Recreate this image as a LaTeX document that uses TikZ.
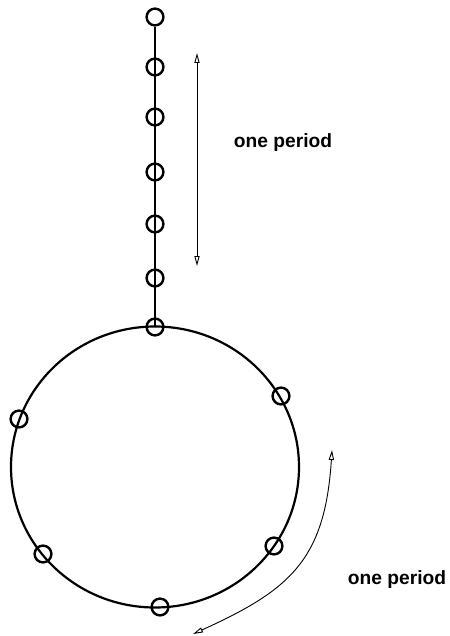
\documentclass[tikz,border=0pt]{standalone}
\usepackage{fontspec}
\setmainfont{Liberation Sans}
\usetikzlibrary{arrows.meta,shapes.geometric}
\begin{document}
\begin{tikzpicture}[x=0.5pt,y=-0.5pt,
  bead/.style={circle,draw,line width=1.2pt,minimum size=8.4pt,inner sep=0pt},
  thickline/.style={line width=1.1pt},
  thinarrow/.style={line width=0.45pt,{Triangle[open,length=5pt,width=2.6pt]}-{Triangle[open,length=5pt,width=2.6pt]}},
  lbl/.style={font=\bfseries\fontsize{9.6}{11}\selectfont,inner sep=0pt}]
\useasboundingbox (0,0) rectangle (449,636);
% ring
\node[ellipse,draw,line width=1.1pt,minimum width=144pt,minimum height=140.5pt,inner sep=0pt] (ring) at (155,467) {};
% chain
\node[bead] (c0) at (155,17) {};
\node[bead] (c1) at (155,67) {};
\node[bead] (c2) at (155,117) {};
\node[bead] (c3) at (155,172) {};
\node[bead] (c4) at (155,224) {};
\node[bead] (c5) at (155,278) {};
\node[bead] (c6) at (155,327) {};
\draw[thickline] (c0.south) -- (c6.center);
% beads on ring
\node[bead] (r1) at (281,396) {};
\node[bead] (r2) at (274,546) {};
\node[bead] (r3) at (160,607) {};
\node[bead] (r4) at (43,554) {};
\node[bead] (r5) at (19,419) {};
% vertical period arrow
\coordinate (a1) at (197,53);
\coordinate (a2) at (197,266);
\draw[thinarrow] (a1) -- (a2);
\node[lbl] (t1) at (283,143) {one period};
% curved period arrow
\coordinate (b1) at (193,634);
\coordinate (b2) at (332,450);
\draw[thinarrow] (b1) .. controls (290,590) and (325,560) .. (b2);
\node[lbl] (t2) at (397,580) {one period};
\end{tikzpicture}
\end{document}
